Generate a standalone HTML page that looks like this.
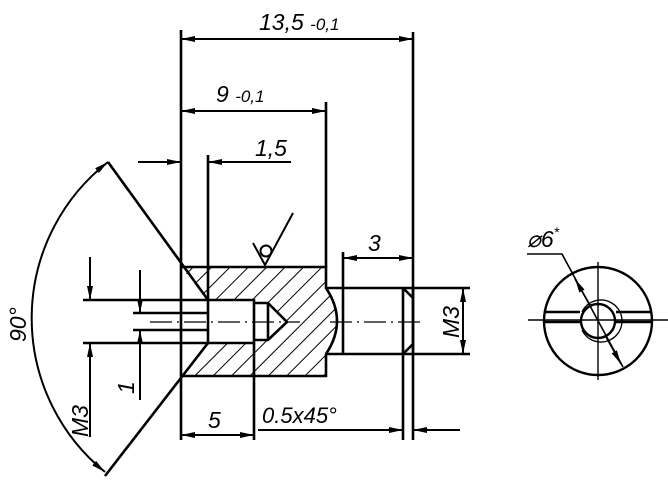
<!DOCTYPE html>
<html><head><meta charset="utf-8"><style>html,body{margin:0;padding:0;background:#fff}svg{display:block}</style></head>
<body>
<svg width="668" height="493" viewBox="0 0 668 493" xmlns="http://www.w3.org/2000/svg" font-family="Liberation Sans, sans-serif" font-style="italic">
<defs>
<marker id="a" viewBox="0 0 14 6" refX="14" refY="3" markerWidth="14" markerHeight="6" orient="auto-start-reverse" markerUnits="userSpaceOnUse"><path d="M0,0 L14,3 L0,6 z" fill="#000"/></marker>
<pattern id="h" width="13" height="13" patternUnits="userSpaceOnUse" patternTransform="rotate(45)"><line x1="0" y1="0" x2="0" y2="13" stroke="#000" stroke-width="2"/></pattern>
</defs>
<g stroke="#000" fill="none" stroke-width="1.6">
<path d="M181,267 L326,267 L326,288 Q348,321 326,354 L326,376 L181,376 L208,343 L254,343 L254,340 L268,340 L287,322 L268,303 L254,303 L254,300 L208,300 Z" fill="url(#h)" stroke="none"/>
<g stroke-width="2.6">
<path d="M181,267 L326,267 L326,288 Q348,321 326,354 L326,376 L181,376"/>
<path d="M208,300 L254,300 L254,343 L208,343 Z"/>
<path d="M254,303 L268,303 L287,322 L268,340 L254,340"/>
<path d="M268,303 L268,340"/>
<path d="M326,288 L413,288 L413,354 L326,354"/>
<path d="M343,288 L343,354"/>
<path d="M403,288 L403,354 M403,288 L413,298 M403,354 L413,344"/>
<path d="M83,300 L208,300 M83,343 L208,343"/>
<path d="M133,313 L208,313 M133,330 L208,330"/>
<path d="M181,30 L181,440 M413,32 L413,440"/>
<path d="M208,155 L208,300"/>
<path d="M326,102 L326,267"/>
<path d="M254,343 L254,440 M403,354 L403,440"/>
<path d="M343,288 L343,252"/>
<path d="M413,288 L470,288 M413,354 L470,354"/>
<path d="M108,162 L208,300 M105,476 L208,343"/>
</g>
<path d="M150,322 L300,322 M330,322 L420,322" stroke-width="1.2" stroke-dasharray="22,5,2,5"/>
<g stroke-width="2">
<line x1="181" y1="39" x2="413" y2="39" marker-start="url(#a)" marker-end="url(#a)"/>
<line x1="181" y1="111" x2="326" y2="111" marker-start="url(#a)" marker-end="url(#a)"/>
<line x1="138" y1="162" x2="181" y2="162" marker-end="url(#a)"/>
<line x1="291" y1="162" x2="208" y2="162" marker-end="url(#a)"/>
<line x1="343" y1="258" x2="413" y2="258" marker-start="url(#a)" marker-end="url(#a)"/>
<line x1="181" y1="435" x2="254" y2="435" marker-start="url(#a)" marker-end="url(#a)"/>
<line x1="258" y1="430" x2="403" y2="430" marker-end="url(#a)"/>
<line x1="460" y1="430" x2="413" y2="430" marker-end="url(#a)"/>
<line x1="463" y1="288" x2="463" y2="354" marker-start="url(#a)" marker-end="url(#a)"/>
<line x1="90" y1="257" x2="90" y2="300" marker-end="url(#a)"/>
<line x1="90" y1="437" x2="90" y2="343" marker-end="url(#a)"/>
<line x1="140" y1="270" x2="140" y2="313" marker-end="url(#a)"/>
<line x1="140" y1="400" x2="140" y2="330" marker-end="url(#a)"/>
<path d="M108,162 A198,198 0 0 0 105,472" marker-start="url(#a)" marker-end="url(#a)"/>
<path d="M253,243 L265,265 L293,213"/>
<circle cx="266" cy="251" r="5.5"/>
</g>
<g stroke-width="2.4">
<circle cx="598" cy="321" r="54"/>
<circle cx="598" cy="321" r="17"/>
<path d="M582,312 A21,21 0 1 1 582,330" stroke-width="1.4"/>
<path d="M545,312 L580,312 M545,322 L580,322 M616,312 L652,312 M616,322 L652,322"/>
</g>
<path d="M528,320 L668,320 M598,262 L598,380" stroke-width="1.4"/>
<path d="M527,254 L562,254 L623,367" stroke-width="1.6"/>
<line x1="590" y1="305" x2="575" y2="279" stroke-width="1.6" marker-end="url(#a)"/>
<line x1="605" y1="335" x2="621" y2="364" stroke-width="1.6" marker-end="url(#a)"/>
</g>
<g fill="#000" font-size="23">
<text x="259" y="30">13,5 <tspan font-size="17">-0,1</tspan></text>
<text x="216" y="102">9 <tspan font-size="17">-0,1</tspan></text>
<text x="255" y="156">1,5</text>
<text x="368" y="251">3</text>
<text x="208" y="428">5</text>
<text x="262" y="423" font-size="22">0.5x45°</text>
<text x="527" y="247">⌀6<tspan font-size="14" dy="-10">*</tspan></text>
<text transform="translate(459,338) rotate(-90)">M3</text>
<text transform="translate(88,437) rotate(-90)">M3</text>
<text transform="translate(134,394) rotate(-90)">1</text>
<text transform="translate(26,342) rotate(-90)">90°</text>
</g>
</svg>
</body></html>
